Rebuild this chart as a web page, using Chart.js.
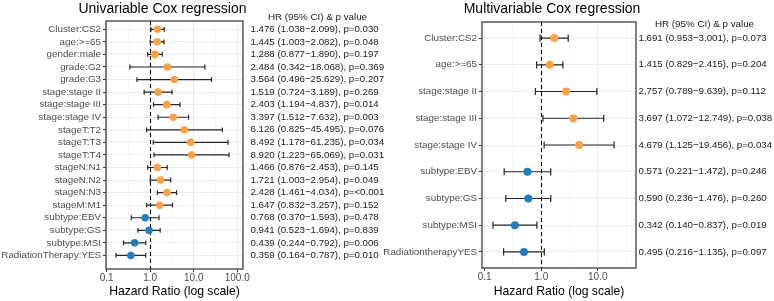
<!DOCTYPE html>
<html>
<head>
<meta charset="utf-8">
<script src="https://cdn.jsdelivr.net/npm/chart.js@4.4.1/dist/chart.umd.min.js"></script>
<style>
  html, body { margin: 0; padding: 0; background: #fff; }
  #wrap { position: relative; width: 774px; height: 301px; }
  #wrap canvas { position: absolute; left: 0; top: 0; }
</style>
</head>
<body>
<div id="wrap">
  <canvas id="uniChart" width="774" height="301"></canvas>
  <canvas id="multiChart" width="774" height="301"></canvas>
</div>
<script>
// univariable model
const uniLabels = ["Cluster:CS2", "age:>=65", "gender:male", "grade:G2", "grade:G3",
  "stage:stage II", "stage:stage III", "stage:stage IV", "stageT:T2", "stageT:T3", "stageT:T4",
  "stageN:N1", "stageN:N2", "stageN:N3", "stageM:M1", "subtype:EBV", "subtype:GS",
  "subtype:MSI", "RadiationTherapy:YES"];
const uniHR = [1.476, 1.445, 1.288, 2.484, 3.564, 1.519, 2.403, 3.397, 6.126, 8.492, 8.920,
  1.466, 1.721, 2.428, 1.647, 0.768, 0.941, 0.439, 0.359];
const uniLo = [1.038, 1.003, 0.877, 0.342, 0.496, 0.724, 1.194, 1.512, 0.825, 1.178, 1.223,
  0.876, 1.003, 1.461, 0.832, 0.370, 0.523, 0.244, 0.164];
const uniHi = [2.099, 2.082, 1.890, 18.068, 25.629, 3.189, 4.837, 7.632, 45.495, 61.235, 65.069,
  2.453, 2.954, 4.034, 3.257, 1.593, 1.694, 0.792, 0.787];
const uniP = ["0.030", "0.048", "0.197", "0.369", "0.207", "0.269", "0.014", "0.003", "0.076",
  "0.034", "0.031", "0.145", "0.049", "<0.001", "0.152", "0.478", "0.839", "0.006", "0.010"];

// multivariable model
const multiLabels = ["Cluster:CS2", "age:>=65", "stage:stage II", "stage:stage III",
  "stage:stage IV", "subtype:EBV", "subtype:GS", "subtype:MSI", "RadiationtherapyYES"];
const multiHR = [1.691, 1.415, 2.757, 3.697, 4.679, 0.571, 0.590, 0.342, 0.495];
const multiLo = [0.953, 0.829, 0.789, 1.072, 1.125, 0.221, 0.236, 0.140, 0.216];
const multiHi = [3.001, 2.415, 9.639, 12.749, 19.456, 1.472, 1.476, 0.837, 1.135];
const multiP = ["0.073", "0.204", "0.112", "0.038", "0.034", "0.246", "0.260", "0.019", "0.097"];

// x axis ticks
const xTickValues = [0.1, 1, 10, 100];
const xTickLabels = ["0.1", "1.0", "10.0", "100.0"];
const xMinorValues = [0.3162, 3.162, 31.62];

const FONT = "'Liberation Sans', Arial, sans-serif";
const ORANGE = "#FBA144";
const BLUE = "#1F7DC1";

function hrText(hr, lo, hi, p) {
  return hr.map((v, i) =>
    v.toFixed(3) + " (" + lo[i].toFixed(3) + "\u2212" + hi[i].toFixed(3) + "), p=" + p[i]);
}

const forestPlugin = {
  id: "forest",
  beforeDatasetsDraw(chart, args, opts) {
    const { ctx, chartArea: a, scales: { x, y } } = chart;
    ctx.save();
    // dashed line at HR = 1
    const x1 = Math.round(x.getPixelForValue(1)) + 0.5;
    ctx.strokeStyle = "#000";
    ctx.lineWidth = 1.1;
    ctx.setLineDash([4, 3]);
    ctx.beginPath();
    ctx.moveTo(x1, a.top);
    ctx.lineTo(x1, a.bottom);
    ctx.stroke();
    ctx.setLineDash([]);
    // confidence intervals
    ctx.strokeStyle = "#262626";
    ctx.lineWidth = 1.2;
    opts.lo.forEach((lo, i) => {
      const py = y.getPixelForValue(i);
      const xl = x.getPixelForValue(lo);
      const xr = x.getPixelForValue(opts.hi[i]);
      ctx.beginPath();
      ctx.moveTo(xl, py); ctx.lineTo(xr, py);
      ctx.moveTo(xl, py - opts.cap); ctx.lineTo(xl, py + opts.cap);
      ctx.moveTo(xr, py - opts.cap); ctx.lineTo(xr, py + opts.cap);
      ctx.stroke();
    });
    ctx.restore();
  },
  afterDraw(chart, args, opts) {
    const { ctx, chartArea: a } = chart;
    ctx.save();
    ctx.strokeStyle = "#4a4a4a";
    ctx.lineWidth = 1.4;
    ctx.strokeRect(a.left, a.top, a.right - a.left, a.bottom - a.top);
    ctx.fillStyle = "#000";
    ctx.textAlign = "center";
    ctx.textBaseline = "alphabetic";
    ctx.font = "14px " + FONT;
    ctx.fillText(opts.title, opts.titleX, 13.3);
    ctx.fillStyle = "#1a1a1a";
    ctx.font = "9.8px " + FONT;
    ctx.fillText("HR (95% CI) & p value", opts.headX, opts.headY);
    ctx.restore();
  }
};

function makeChart(id, labels, hr, lo, hi, p, c) {
  const texts = hrText(hr, lo, hi, p);
  const isMajor = v => xTickValues.some(t => Math.abs(t - v) < 1e-9);
  const xTicks = xTickValues.concat(xMinorValues).filter(v => v >= c.xMin && v <= c.xMax)
    .sort((m, n) => m - n);
  return new Chart(document.getElementById(id), {
    type: "scatter",
    data: {
      datasets: [{
        data: hr.map((v, i) => ({ x: v, y: i })),
        pointBackgroundColor: hr.map(v => (v > 1 ? ORANGE : BLUE)),
        pointBorderWidth: 0,
        pointRadius: c.radius,
        pointHoverRadius: c.radius
      }]
    },
    options: {
      responsive: false,
      animation: false,
      events: [],
      layout: { padding: { top: c.top, left: 0, right: 0, bottom: 0 } },
      plugins: {
        legend: { display: false },
        tooltip: { enabled: false },
        forest: { lo: lo, hi: hi, cap: c.cap, title: c.title, titleX: c.titleX, headX: c.headX, headY: c.headY }
      },
      scales: {
        x: {
          type: "logarithmic",
          position: "bottom",
          min: c.xMin,
          max: c.xMax,
          afterBuildTicks: s => { s.ticks = xTicks.map(v => ({ value: v })); },
          afterFit: s => { s.height = 301 - c.bottom; },
          border: { display: false },
          grid: {
            color: ctx => (isMajor(ctx.tick.value) ? "#EBEBEB" : "#F4F4F4"),
            tickColor: ctx => (isMajor(ctx.tick.value) ? "#333" : "rgba(0,0,0,0)"),
            lineWidth: ctx => (isMajor(ctx.tick.value) ? 1 : 0.7),
            tickLength: 3
          },
          ticks: {
            autoSkip: false,
            maxRotation: 0,
            padding: 0,
            color: "#4D4D4D",
            font: { family: FONT, size: 10 },
            callback: v => {
              const k = xTickValues.findIndex(t => Math.abs(t - v) < 1e-9);
              return k >= 0 ? xTickLabels[k] : "";
            }
          },
          title: {
            display: true,
            text: "Hazard Ratio (log scale)",
            color: "#000",
            font: { family: FONT, size: 12.2 },
            padding: { top: 0, bottom: 2 }
          }
        },
        y: {
          type: "linear",
          position: "left",
          reverse: true,
          min: c.yMin,
          max: c.yMax,
          afterBuildTicks: s => { s.ticks = labels.map((_, i) => ({ value: i })); },
          afterFit: s => { s.width = c.left; },
          border: { display: false },
          grid: { color: "#EBEBEB", tickColor: "#333", tickLength: 3 },
          ticks: {
            autoSkip: false,
            padding: 2,
            color: "#4D4D4D",
            font: { family: FONT, size: 9.8 },
            callback: v => labels[v]
          }
        },
        y2: {
          type: "linear",
          position: "right",
          reverse: true,
          min: c.yMin,
          max: c.yMax,
          afterBuildTicks: s => { s.ticks = texts.map((_, i) => ({ value: i })); },
          afterFit: s => { s.width = 774 - c.right; },
          border: { display: false },
          grid: { display: false, drawTicks: false },
          ticks: {
            autoSkip: false,
            padding: c.textGap,
            color: "#1a1a1a",
            font: { family: FONT, size: c.textSize },
            callback: v => texts[v]
          }
        }
      }
    },
    plugins: [forestPlugin]
  });
}

makeChart("uniChart", uniLabels, uniHR, uniLo, uniHi, uniP, {
  left: 106, right: 243, top: 21, bottom: 269,
  xMin: 0.0964, xMax: 135.8, yMin: -0.66, yMax: 19.08,
  radius: 3.8, cap: 2.4, textGap: 7.5, textSize: 9.7,
  title: "Univariable Cox regression", titleX: 162.5, headX: 317.5, headY: 20.2
});

makeChart("multiChart", multiLabels, multiHR, multiLo, multiHi, multiP, {
  left: 482, right: 636, top: 22, bottom: 268,
  xMin: 0.0895, xMax: 47.5, yMin: -0.6, yMax: 8.6,
  radius: 4, cap: 3.6, textGap: 2.5, textSize: 9.7,
  title: "Multivariable Cox regression", titleX: 552, headX: 704.5, headY: 26.8
});
</script>
</body>
</html>
